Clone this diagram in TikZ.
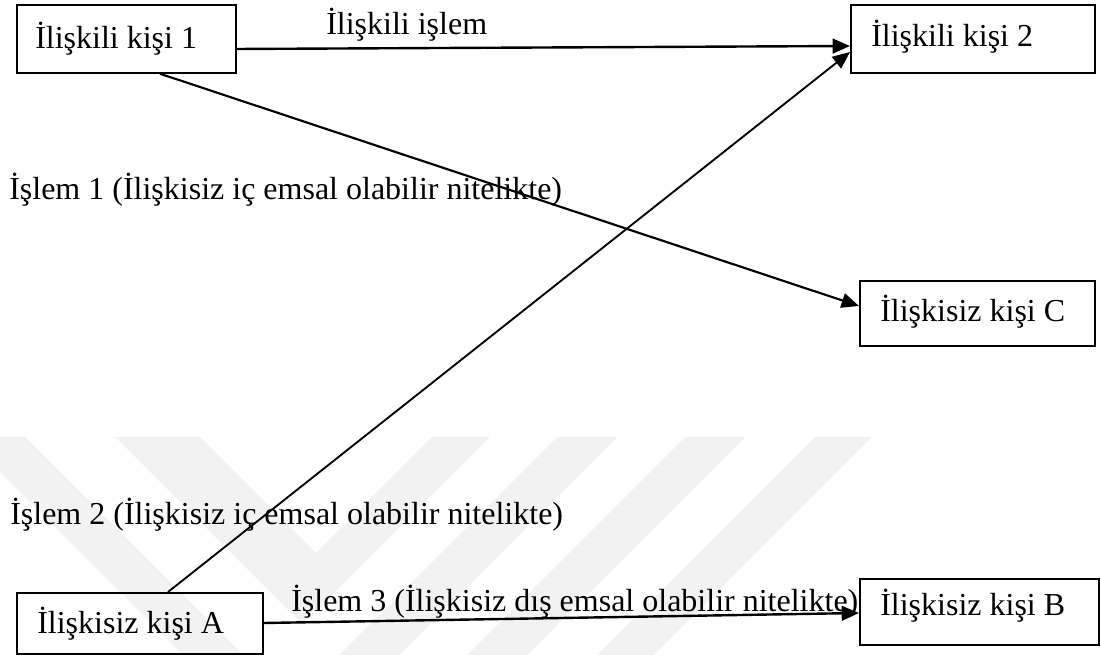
\documentclass[tikz,border=0pt]{standalone}
\usepackage{fontspec}
\setmainfont{Liberation Serif}
\usetikzlibrary{arrows.meta,calc}
\begin{document}
\begin{tikzpicture}[x=0.75pt,y=-0.75pt,
  box/.style={draw=black,line width=1.3pt,rectangle,inner sep=0pt,anchor=north west},
  txt/.style={anchor=base west,inner sep=0pt,font=\fontsize{24}{28}\selectfont},
  conn/.style={line width=1.8pt,-{Triangle[length=13pt,width=11pt]}},
  wm/.style={fill=black!5,draw=none}]
\useasboundingbox (0,0) rectangle (1101,655);
% faint watermark
\begin{scope}
\clip (0,0) rectangle (1101,655);
\fill[wm] (-35,437) -- (25,437) -- (243,655) -- (183,655) -- cycle;
\fill[wm] (115,437) -- (200,437) -- (316,553) -- (432,437) -- (490,437) -- (302.5,624.5) -- cycle;
\fill[wm] (557,437) -- (617,437) -- (399,655) -- (339,655) -- cycle;
\fill[wm] (685,437) -- (745,437) -- (527,655) -- (467,655) -- cycle;
\fill[wm] (815,437) -- (872,437) -- (654,655) -- (597,655) -- cycle;
\end{scope}
% labels
\node[txt] (l0) at (326,35) {İlişkili işlem};
\node[txt] (l1) at (9,200) {İşlem 1 (İlişkisiz iç emsal olabilir nitelikte)};
\node[txt] (l2) at (10,525) {İşlem 2 (İlişkisiz iç emsal olabilir nitelikte)};
\node[txt] (l3) at (291,612) {İşlem 3 (İlişkisiz dış emsal olabilir nitelikte)};
% boxes
\node[box,minimum width=164.25pt,minimum height=51pt] (b1) at (16,4) {};
\node[box,minimum width=183pt,minimum height=51pt] (b2) at (850,4) {};
\node[box,minimum width=176.25pt,minimum height=48.75pt] (C) at (859,280) {};
\node[box,minimum width=184.5pt,minimum height=45.75pt] (A) at (16,592) {};
\node[box,minimum width=179.25pt,minimum height=49.5pt] (B) at (859,578) {};
\node[txt] (t1) at (35,49) {İlişkili kişi 1};
\node[txt] (t2) at (871,47) {İlişkili kişi 2};
\node[txt] (tC) at (880,322) {İlişkisiz kişi C};
\node[txt] (tA) at (37,634) {İlişkisiz kişi A};
\node[txt] (tB) at (880,616) {İlişkisiz kişi B};
% connectors
\draw[conn] ($(b1.north east)+(0,45)$) -- ($(b2.north west)+(0,42)$);
\draw[conn,line width=1.6pt] ($(b1.south west)+(144,0)$) -- ($(C.north west)+(0,26)$);
\draw[conn,line width=1.4pt] ($(A.north west)+(152,0)$) -- ($(b2.north west)+(0,48)$);
\draw[conn] ($(A.north east)+(0,31)$) -- ($(B.north west)+(0,35)$);
\end{tikzpicture}
\end{document}
